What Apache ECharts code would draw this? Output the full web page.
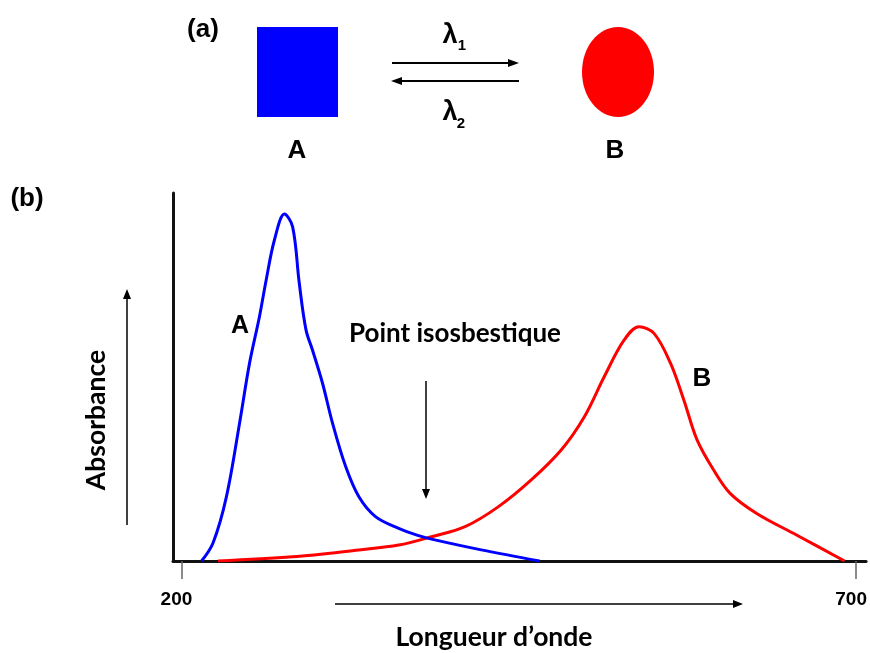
<!DOCTYPE html>
<html><head><meta charset="utf-8">
<script src="https://cdn.jsdelivr.net/npm/echarts@6/dist/echarts.min.js"></script>
<style>html,body{margin:0;padding:0;background:#fff;overflow:hidden}#c{width:870px;height:653px;position:absolute;left:0;top:0}</style>
</head><body><div id="c"></div>
<script>
// Spectrum of A (nm, relative absorbance)
const wavelengthA = [214.9, 223.4, 233.3, 243.1, 250.5, 257.8, 262.8, 268.9, 276.3, 282.4, 287.3, 292.3, 297.1, 304.5, 311.9, 321.7, 331.5, 343.8, 361.0, 375.8, 385.3, 422.2, 465.4];
const absorbanceA = [0.0, 0.052, 0.185, 0.398, 0.571, 0.704, 0.810, 0.925, 1.0, 0.963, 0.801, 0.666, 0.608, 0.513, 0.398, 0.272, 0.185, 0.128, 0.094, 0.073, 0.063, 0.032, 0.0];
// Spectrum of B
const wavelengthB = [227.1, 282.2, 331.5, 361.0, 385.3, 410.2, 434.7, 459.0, 481.4, 498.6, 513.3, 528.1, 539.1, 550.2, 562.4, 572.3, 582.1, 594.4, 606.6, 626.3, 655.8, 691.4];
const absorbanceB = [0.0, 0.012, 0.032, 0.046, 0.070, 0.099, 0.156, 0.233, 0.320, 0.416, 0.531, 0.637, 0.675, 0.656, 0.570, 0.464, 0.349, 0.262, 0.195, 0.137, 0.075, 0.0];
const xTickLabels = [200, 700];
const xName = 'Longueur d\u2019onde';
const yName = 'Absorbance';
const isoLabel = 'Point isosbestique';

const chart = echarts.init(document.getElementById('c'), null, {renderer: 'canvas', width: 870, height: 653});
const pairs = (xs, ys) => xs.map((x, i) => [x, ys[i]]);
const bold = 'Liberation Sans, Arial, sans-serif';
const cal = 'Lato, Open Sans, sans-serif';
const arrowHead = (x, y, dir, len, half) => {
  let pts;
  if (dir === 'right') pts = [[x, y], [x - len, y - half], [x - len, y + half]];
  else if (dir === 'left') pts = [[x, y], [x + len, y - half], [x + len, y + half]];
  else if (dir === 'up') pts = [[x, y], [x - half, y + len], [x + half, y + len]];
  else pts = [[x, y], [x - half, y - len], [x + half, y - len]];
  return {type: 'polygon', shape: {points: pts}, style: {fill: '#000'}};
};
const line = (x1, y1, x2, y2, w) => ({type: 'line', shape: {x1, y1, x2, y2}, style: {stroke: '#000', lineWidth: w}});
const txt = (x, y, text, size, font, weight, extra) => Object.assign({type: 'text', x, y, style: {text, fontSize: size, fontFamily: font, fontWeight: weight || 'bold', fill: '#000', align: 'center', verticalAlign: 'middle'}}, extra || {});

chart.setOption({
  animation: false,
  backgroundColor: '#fff',
  grid: {left: 173, right: 0, top: 193, bottom: 92, containLabel: false},
  xAxis: {
    type: 'value', min: 193.74, max: 707.37,
    axisLine: {show: true, onZero: false, lineStyle: {color: '#111', width: 3}},
    axisTick: {show: true, customValues: xTickLabels, length: 18, lineStyle: {color: '#666', width: 1.5}},
    axisLabel: {show: true, customValues: xTickLabels, margin: 29, fontSize: 19, fontWeight: 'bold', fontFamily: bold, color: '#000', padding: [0, 10, 0, 0]},
    splitLine: {show: false}
  },
  yAxis: {
    type: 'value', min: 0, max: 1.0605,
    axisLine: {show: true, lineStyle: {color: '#111', width: 3}},
    axisTick: {show: false}, axisLabel: {show: false}, splitLine: {show: false}
  },
  series: [
    {name: 'A', type: 'line', data: pairs(wavelengthA, absorbanceA), smooth: 0.35, showSymbol: false, lineStyle: {color: '#0000ff', width: 3}, z: 3},
    {name: 'B', type: 'line', data: pairs(wavelengthB, absorbanceB), smooth: 0.35, showSymbol: false, lineStyle: {color: '#ff0000', width: 3}, z: 2}
  ],
  graphic: [
    // panel (a)
    txt(203, 30, '(a)', 26, bold),
    {type: 'rect', shape: {x: 257, y: 27, width: 81, height: 90}, style: {fill: '#0000ff'}},
    {type: 'ellipse', shape: {cx: 618, cy: 72, rx: 36, ry: 45}, style: {fill: '#ff0000'}},
    line(392, 63, 510, 63, 2), arrowHead(519, 63, 'right', 11, 4),
    line(400, 81, 519, 81, 2), arrowHead(391, 81, 'left', 11, 4),
    txt(450, 36, '\u03bb', 27, bold, 'bold'), txt(462, 46, '1', 15, bold),
    txt(450, 113, '\u03bb', 27, bold, 'bold'), txt(461, 124, '2', 15, bold),
    txt(297, 151, 'A', 26, bold), txt(615, 151, 'B', 26, bold),
    // panel (b)
    txt(27, 199, '(b)', 26, bold),
    txt(240, 326, 'A', 25, bold), txt(702, 379, 'B', 26, bold),
    txt(455, 334, isoLabel, 26, cal),
    line(426, 381, 426, 490, 1.5), arrowHead(426, 499, 'down', 10, 4),
    line(127, 525, 127, 298, 1.5), arrowHead(127, 289, 'up', 10, 4),
    line(335, 604, 733, 604, 1.5), arrowHead(743, 604, 'right', 10, 4),
    txt(494, 637, xName, 26.5, cal),
    txt(96, 420, yName, 26.5, cal, 'bold', {rotation: Math.PI / 2})
  ]
});
</script></body></html>
